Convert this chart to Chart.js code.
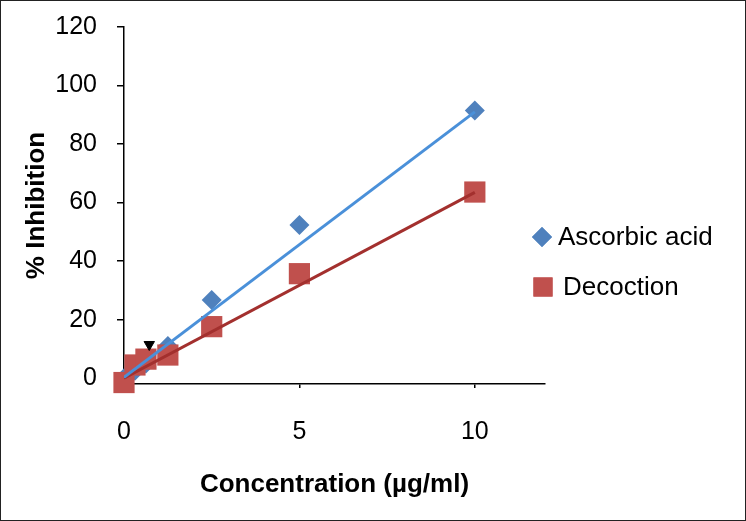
<!DOCTYPE html>
<html>
<head>
<meta charset="utf-8">
<script src="https://cdn.jsdelivr.net/npm/chart.js@4"></script>
<style>
  html, body { margin: 0; padding: 0; background: #fff; }
  #wrap { width: 746px; height: 521px; }
</style>
</head>
<body>
<div id="wrap"><canvas id="chart" width="746" height="521"></canvas></div>
<script>
// concentrations (µg/ml)
const concentrations = [0, 0.3125, 0.625, 1.25, 2.5, 5, 10];
// % inhibition
const ascorbicAcid = [0, 2.5, 5, 11, 26.7, 52.3, 91.5];
const decoction = [-1.5, 4.5, 6.5, 7.9, 17.6, 35.7, 63.6];
// linear trend lines (end points)
const trendX = [0, 10];
const ascorbicTrend = [0.3, 91];
const decoctionTrend = [0, 63.5];
// stray marker near x = 0.7
const strayX = [0.72];
const strayY = [11.5];

const xTicks = [0, 5, 10];
const yTicks = [0, 20, 40, 60, 80, 100, 120];

const toPoints = (xs, ys) => xs.map((x, i) => ({ x: x, y: ys[i] }));

const FONT = "'Liberation Sans', Arial, sans-serif";

// legend drawn to the right like the original
const sideLegend = {
  id: "sideLegend",
  afterDatasetsDraw(chart) {
    const ctx = chart.ctx;
    const items = [
      { label: "Ascorbic acid", style: "rectRot", radius: 10, color: "#4F81BD", x: 542, y: 237, tx: 558 },
      { label: "Decoction", style: "rect", radius: 13.5, color: "#C0504D", x: 543, y: 287, tx: 563 }
    ];
    ctx.save();
    items.forEach(it => {
      ctx.fillStyle = it.color;
      Chart.helpers.drawPoint(ctx, { pointStyle: it.style, radius: it.radius, rotation: 0, borderWidth: 0 }, it.x, it.y);
      ctx.fill();
      ctx.fillStyle = "#000";
      ctx.font = "26px " + FONT;
      ctx.textBaseline = "middle";
      ctx.textAlign = "left";
      ctx.fillText(it.label, it.tx, it.y + 1);
    });
    ctx.restore();
  },
  afterDraw(chart) {
    const ctx = chart.ctx;
    ctx.save();
    ctx.strokeStyle = "#222";
    ctx.lineWidth = 1;
    ctx.strokeRect(0.5, 0.5, chart.width - 1, chart.height - 1);
    ctx.restore();
  }
};

new Chart(document.getElementById("chart"), {
  type: "scatter",
  data: {
    datasets: [
      {
        label: "Ascorbic acid trend",
        data: toPoints(trendX, ascorbicTrend),
        showLine: true,
        borderColor: "#4A90D9",
        borderWidth: 3,
        pointRadius: 0
      },
      {
        label: "Decoction trend",
        data: toPoints(trendX, decoctionTrend),
        showLine: true,
        borderColor: "#A3302E",
        borderWidth: 3,
        pointRadius: 0
      },
      {
        label: "marker",
        data: toPoints(strayX, strayY),
        pointStyle: "triangle",
        rotation: 180,
        pointRadius: 6,
        backgroundColor: "#000",
        borderColor: "#000",
        borderWidth: 1
      },
      {
        label: "Decoction",
        data: toPoints(concentrations, decoction),
        pointStyle: "rect",
        pointRadius: 15,
        backgroundColor: "#C0504D",
        borderWidth: 0,
        clip: false
      },
      {
        label: "Ascorbic acid",
        data: toPoints(concentrations, ascorbicAcid),
        pointStyle: "rectRot",
        pointRadius: 10,
        backgroundColor: "#4F81BD",
        borderWidth: 0,
        clip: false
      }
    ]
  },
  options: {
    responsive: false,
    animation: false,
    layout: { padding: { top: 27, right: 201, bottom: 0, left: 0 } },
    plugins: {
      legend: { display: false },
      tooltip: { enabled: false }
    },
    scales: {
      x: {
        type: "linear",
        min: 0,
        max: 12,
        afterBuildTicks: s => { s.ticks = xTicks.map(v => ({ value: v })); },
        afterFit: s => { s.height = 137; },
        grid: { drawOnChartArea: false, tickLength: 4, color: "#000", lineWidth: 1.5 },
        border: { color: "#000", width: 1.5 },
        ticks: { color: "#000", font: { family: FONT, size: 25 }, padding: 29, maxRotation: 0 },
        title: {
          display: true,
          text: "Concentration (µg/ml)",
          color: "#000",
          font: { family: FONT, size: 26, weight: "bold" },
          padding: { top: 21, bottom: 21 }
        }
      },
      y: {
        min: -2,
        max: 120,
        afterBuildTicks: s => { s.ticks = yTicks.map(v => ({ value: v })); },
        afterFit: s => {
          s.width = 124;
          // tick padding is only meant to push the labels sideways
          s.paddingTop = 14;
          s.paddingBottom = 14;
        },
        grid: { drawOnChartArea: false, tickLength: 7, color: "#000", lineWidth: 1.5 },
        border: { color: "#000", width: 1.5 },
        ticks: { color: "#000", font: { family: FONT, size: 25 }, padding: 20 },
        title: {
          display: true,
          text: "% Inhibition",
          color: "#000",
          font: { family: FONT, size: 26, weight: "bold" },
          padding: { top: 21, bottom: 21 }
        }
      }
    }
  },
  plugins: [sideLegend]
});
</script>
</body>
</html>
